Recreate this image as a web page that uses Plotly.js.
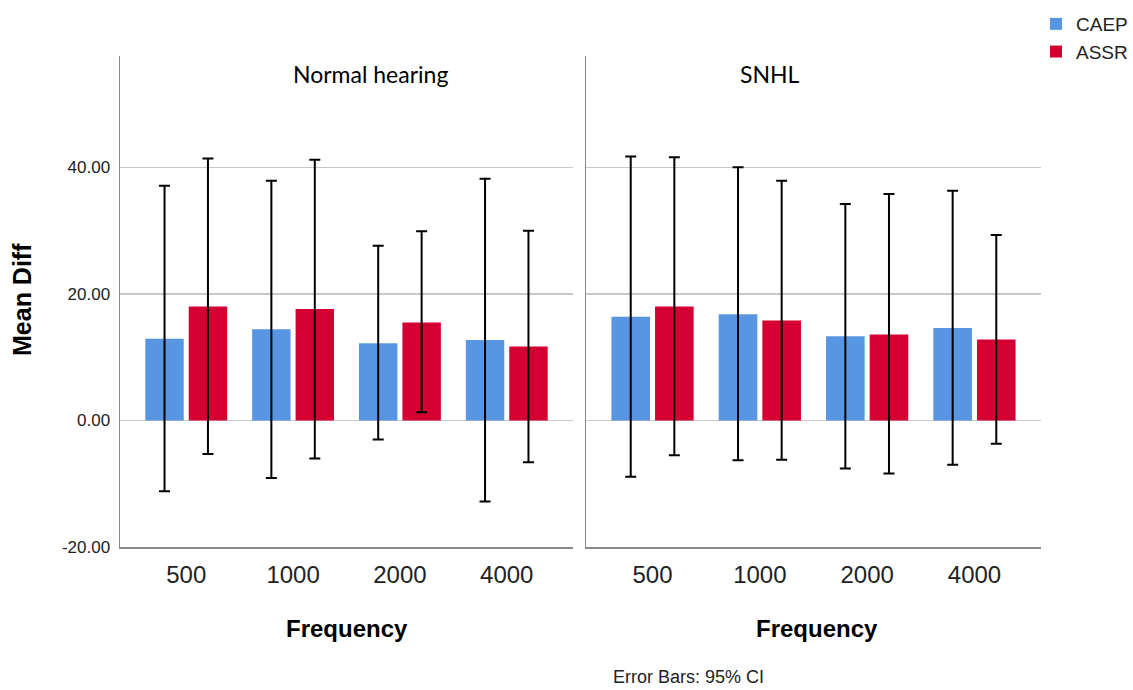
<!DOCTYPE html>
<html>
<head>
<meta charset="utf-8">
<script src="https://cdn.plot.ly/plotly-3.0.1.min.js"></script>
<style>html,body{margin:0;padding:0;background:#fff;}#chart{width:1133px;height:690px;}</style>
</head>
<body>
<div id="chart"></div>
<script>
// Data
const frequencies = ['500', '1000', '2000', '4000'];
const seriesNames = ['CAEP', 'ASSR'];
const panelTitles = ['Normal hearing', 'SNHL'];

// Normal hearing
const nhCaepMean  = [12.9, 14.4, 12.2, 12.7];
const nhCaepLower = [-11.2, -9.1, -3.0, -12.8];
const nhCaepUpper = [37.1, 37.9, 27.6, 38.2];
const nhAssrMean  = [18.0, 17.6, 15.5, 11.7];
const nhAssrLower = [-5.3, -6.0, 1.3, -6.6];
const nhAssrUpper = [41.4, 41.2, 29.9, 30.0];

// SNHL
const snCaepMean  = [16.4, 16.8, 13.3, 14.6];
const snCaepLower = [-8.9, -6.3, -7.6, -7.0];
const snCaepUpper = [41.7, 40.0, 34.2, 36.3];
const snAssrMean  = [18.0, 15.8, 13.6, 12.8];
const snAssrLower = [-5.5, -6.2, -8.4, -3.7];
const snAssrUpper = [41.6, 37.9, 35.8, 29.3];

const yTickVals = [-20, 0, 20, 40];
const yTickText = ['-20.00', '0.00', '20.00', '40.00'];

const colors = {CAEP: '#5896E3', ASSR: '#D50032'};

function barTrace(name, mean, lower, upper, xa, ya, showLegend) {
  return {
    type: 'bar', name: name, x: frequencies, y: mean,
    xaxis: xa, yaxis: ya, showlegend: showLegend, legendgroup: name,
    marker: {color: colors[name], line: {width: 0}},
    error_y: {
      type: 'data', symmetric: false,
      array: upper.map((u, i) => u - mean[i]),
      arrayminus: lower.map((l, i) => mean[i] - l),
      color: '#000', thickness: 2, width: 5.5
    },
    hoverinfo: 'skip'
  };
}

const data = [
  barTrace(seriesNames[0], nhCaepMean, nhCaepLower, nhCaepUpper, 'x', 'y', true),
  barTrace(seriesNames[1], nhAssrMean, nhAssrLower, nhAssrUpper, 'x', 'y', true),
  barTrace(seriesNames[0], snCaepMean, snCaepLower, snCaepUpper, 'x2', 'y2', false),
  barTrace(seriesNames[1], snAssrMean, snAssrLower, snAssrUpper, 'x2', 'y2', false)
];

const W = 1133, H = 690;
const px = v => v / W;
const py = v => 1 - v / H;

const tickFont = {family: 'Liberation Sans, Arial, sans-serif', size: 24, color: '#222'};
const xBase = {
  type: 'category', range: [-0.62, 3.62], showgrid: false, zeroline: false,
  showline: true, linecolor: '#8a8a8a', linewidth: 1.5, ticks: '',
  tickfont: tickFont, ticklabelstandoff: 6, fixedrange: true
};
const yBase = {
  range: [-20, 57.6], tickvals: yTickVals, ticktext: yTickText,
  showgrid: true, gridcolor: '#c8c8c8', gridwidth: 1.3, zeroline: false,
  showline: true, linecolor: '#8a8a8a', linewidth: 1.5, ticks: '',
  tickfont: {family: 'Liberation Sans, Arial, sans-serif', size: 17, color: '#222'},
  ticklabelstandoff: 5, domain: [py(547), py(56)], fixedrange: true
};

function ann(text, x, y, font, extra) {
  return Object.assign({text: text, x: px(x), y: py(y), xref: 'paper', yref: 'paper',
    xanchor: 'center', yanchor: 'middle', showarrow: false, font: font}, extra || {});
}
const titleFont = {family: 'Lato, Carlito, sans-serif', size: 23, color: '#000'};
const boldFont = {family: 'Liberation Sans, Arial, sans-serif', size: 24, color: '#000'};

const layout = {
  width: W, height: H,
  margin: {l: 0, r: 0, t: 0, b: 0},
  paper_bgcolor: '#fff', plot_bgcolor: '#fff',
  barmode: 'group', bargap: 0.187, bargroupgap: 0.115,
  xaxis: Object.assign({}, xBase, {domain: [px(120), px(573)], anchor: 'y'}),
  xaxis2: Object.assign({}, xBase, {domain: [px(586), px(1041)], anchor: 'y2'}),
  yaxis: Object.assign({}, yBase, {anchor: 'x'}),
  yaxis2: Object.assign({}, yBase, {anchor: 'x2', showticklabels: false}),
  legend: {
    x: px(1036), y: py(5), xanchor: 'left', yanchor: 'top',
    font: {family: 'Liberation Sans, Arial, sans-serif', size: 19, color: '#222'},
    bgcolor: 'rgba(0,0,0,0)', tracegroupgap: 0, itemwidth: 30
  },
  annotations: [
    ann(panelTitles[0], 370, 74, titleFont),
    ann(panelTitles[1], 770, 74, titleFont),
    ann('<b>Frequency</b>', 347, 628, boldFont),
    ann('<b>Frequency</b>', 817, 628, boldFont),
    ann('<b>Mean Diff</b>', 22, 300, {family: 'Liberation Sans, Arial, sans-serif', size: 25, color: '#000'}, {textangle: -90}),
    ann('Error Bars: 95% CI', 688, 677, {family: 'Liberation Sans, Arial, sans-serif', size: 18, color: '#222'})
  ]
};

Plotly.newPlot('chart', data, layout, {displayModeBar: false, staticPlot: true});
</script>
</body>
</html>
